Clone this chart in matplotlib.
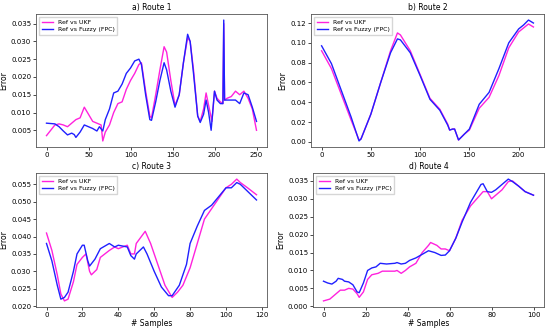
import matplotlib.pyplot as plt

# Route 1
r1_x_ukf = [0, 10, 15, 20, 25, 30, 35, 40, 45, 50, 55, 60, 65, 67, 70, 75, 80, 85, 90, 95, 100, 105, 110, 113,
            118, 123, 125, 130, 135, 140, 143, 148, 153, 158, 163, 168, 171, 175, 180, 183, 187, 190, 193, 197,
            200, 203, 207, 210, 211, 212, 215, 220, 225, 230, 235, 240, 245, 250]
r1_ukf = [0.0035, 0.0065, 0.0068, 0.0065, 0.006, 0.007, 0.008, 0.0085, 0.0115, 0.0095, 0.0075, 0.007, 0.0065,
          0.002, 0.0045, 0.0065, 0.010, 0.0125, 0.013, 0.0165, 0.019, 0.021, 0.0235, 0.024,
          0.016, 0.009, 0.0085, 0.015, 0.022, 0.0285, 0.027, 0.019, 0.012, 0.015, 0.024, 0.031, 0.030, 0.022,
          0.009, 0.0075, 0.011, 0.0155, 0.012, 0.0075, 0.016, 0.014, 0.013, 0.0125, 0.035, 0.0135, 0.014,
          0.0145, 0.016, 0.015, 0.016, 0.014, 0.011, 0.005]
r1_x_fpc = [0, 10, 15, 20, 25, 30, 33, 35, 40, 45, 50, 55, 60, 63, 67, 70, 75, 80, 85, 90, 95, 100, 105, 110,
            113, 118, 123, 125, 130, 135, 140, 143, 148, 153, 158, 163, 168, 171, 175, 180, 183, 187, 190, 193,
            196, 200, 203, 207, 210, 211, 212, 215, 220, 225, 230, 235, 240, 245, 250]
r1_fpc = [0.007, 0.0068, 0.006, 0.0048, 0.0037, 0.0042, 0.0038, 0.003, 0.0045, 0.0065, 0.006, 0.0055, 0.0048,
          0.006, 0.0048, 0.008, 0.011, 0.0155, 0.016, 0.018, 0.021, 0.0225, 0.0245, 0.025,
          0.0235, 0.015, 0.008, 0.0078, 0.013, 0.019, 0.024, 0.022, 0.016, 0.0115, 0.015, 0.024, 0.032, 0.030,
          0.021, 0.009, 0.0072, 0.0095, 0.0135, 0.010, 0.005, 0.016, 0.0135, 0.0125, 0.0125, 0.036, 0.0135,
          0.0135, 0.0135, 0.0135, 0.0125, 0.0155, 0.015, 0.0115, 0.0075]

# Route 2
r2_x = [0, 10, 20, 30, 38, 40, 50, 60, 70, 77, 80, 90, 100, 110, 120, 128, 130, 133, 135, 139, 145, 150,
        160, 170, 180, 190, 200, 205, 210, 215]
r2_ukf = [0.092, 0.074, 0.048, 0.022, 0.002, 0.003, 0.028, 0.060, 0.092, 0.110, 0.108, 0.092, 0.068, 0.044,
          0.033, 0.018, 0.012, 0.013, 0.013, 0.002, 0.008, 0.012, 0.034, 0.045, 0.067, 0.095, 0.111, 0.115,
          0.119, 0.116]
r2_fpc = [0.097, 0.079, 0.052, 0.025, 0.001, 0.003, 0.028, 0.060, 0.090, 0.104, 0.103, 0.090, 0.067, 0.043,
          0.032, 0.017, 0.012, 0.013, 0.013, 0.002, 0.008, 0.013, 0.038, 0.050, 0.074, 0.100, 0.114, 0.118,
          0.123, 0.120]

# Route 3
r3_x_ukf = [0, 3, 6, 8, 10, 12, 15, 17, 20, 22, 24, 25, 28, 30, 35, 38, 40, 45, 47, 49, 50, 55, 58, 62, 66,
            70, 73, 76, 80, 84, 88, 92, 96, 100, 103, 106, 108, 112, 117]
r3_ukf = [0.041, 0.036, 0.029, 0.0235, 0.0215, 0.022, 0.027, 0.032, 0.034, 0.035, 0.030, 0.029, 0.0305,
          0.034, 0.036, 0.037, 0.0365, 0.0375, 0.035, 0.035, 0.038, 0.0415, 0.038, 0.032, 0.026, 0.0225,
          0.024, 0.026, 0.031, 0.038, 0.045, 0.048, 0.051, 0.054, 0.055, 0.0565, 0.0555, 0.054, 0.052]
r3_x_fpc = [0, 3, 6, 8, 10, 12, 15, 17, 20, 21, 23, 24, 27, 30, 35, 38, 40, 45, 47, 49, 50, 54, 56, 60, 64,
            68, 70, 74, 78, 80, 84, 88, 92, 96, 100, 103, 106, 108, 112, 117]
r3_fpc = [0.038, 0.033, 0.026, 0.022, 0.0225, 0.024, 0.030, 0.035, 0.0375, 0.0375, 0.033, 0.0315, 0.0335,
          0.0365, 0.038, 0.037, 0.0375, 0.037, 0.0345, 0.0335, 0.035, 0.037, 0.035, 0.030, 0.0255, 0.023,
          0.023, 0.026, 0.032, 0.038, 0.043, 0.0475, 0.049, 0.0515, 0.054, 0.054, 0.0555, 0.055, 0.053, 0.0505]

# Route 4
r4_x_ukf = [0, 3, 5, 8, 10, 12, 14, 16, 17, 19, 21, 23, 26, 28, 30, 34, 35, 37, 39, 41, 44, 47, 50, 51, 54,
            56, 58, 60, 63, 66, 70, 73, 76, 78, 80, 82, 85, 88, 90, 93, 96, 100]
r4_ukf = [0.0015, 0.002, 0.003, 0.0045, 0.0045, 0.005, 0.0048, 0.0035, 0.0025, 0.004, 0.0075, 0.0088,
          0.0092, 0.0098, 0.0098, 0.0098, 0.010, 0.0092, 0.010, 0.011, 0.012, 0.015, 0.017, 0.0178, 0.017,
          0.016, 0.016, 0.0155, 0.019, 0.024, 0.028, 0.030, 0.032, 0.032, 0.030, 0.031, 0.0325, 0.0348,
          0.035, 0.0335, 0.032, 0.031]
r4_x_fpc = [0, 2, 4, 6, 7, 9, 10, 12, 14, 16, 17, 19, 21, 23, 25, 27, 30, 34, 35, 37, 39, 41, 44, 47, 50,
            53, 56, 58, 60, 63, 66, 70, 73, 75, 76, 78, 80, 82, 85, 88, 90, 93, 96, 100]
r4_fpc = [0.007, 0.0065, 0.0062, 0.007, 0.0078, 0.0075, 0.007, 0.0068, 0.006, 0.004, 0.0038, 0.0065, 0.010,
          0.0107, 0.011, 0.012, 0.0118, 0.012, 0.0122, 0.0118, 0.012, 0.0128, 0.0135, 0.0145, 0.0155, 0.015,
          0.0142, 0.0143, 0.0155, 0.019, 0.0235, 0.029, 0.032, 0.034, 0.0342, 0.032, 0.0318, 0.0325, 0.034,
          0.0355, 0.0348, 0.0335, 0.032, 0.031]

titles = ['a) Route 1', 'b) Route 2', 'c) Route 3', 'd) Route 4']
routes = [(r1_x_ukf, r1_ukf, r1_x_fpc, r1_fpc),
          (r2_x, r2_ukf, r2_x, r2_fpc),
          (r3_x_ukf, r3_ukf, r3_x_fpc, r3_fpc),
          (r4_x_ukf, r4_ukf, r4_x_fpc, r4_fpc)]
yticks = [[0.005, 0.010, 0.015, 0.020, 0.025, 0.030, 0.035],
          [0.00, 0.02, 0.04, 0.06, 0.08, 0.10, 0.12],
          [0.020, 0.025, 0.030, 0.035, 0.040, 0.045, 0.050, 0.055],
          [0.000, 0.005, 0.010, 0.015, 0.020, 0.025, 0.030, 0.035]]
yfmt = ['%.3f', '%.2f', '%.3f', '%.3f']

# axes boxes in pixels: left, top, right, bottom
boxes = [(36, 14, 267, 147), (311, 14, 544, 147), (36, 173, 267, 307), (313, 173, 544, 307)]

fig = plt.figure(figsize=(5.5, 3.32), dpi=100)
W, H = 550, 332
for i in range(4):
    l, t, r, b = boxes[i]
    ax = fig.add_axes([l / W, 1 - b / H, (r - l) / W, (b - t) / H])
    xu, yu, xf, yf = routes[i]
    ax.plot(xu, yu, color='#ff22dd', lw=1.0, label='Ref vs UKF')
    ax.plot(xf, yf, color='#2020ff', lw=1.0, label='Ref vs Fuzzy (FPC)')
    ax.set_title(titles[i], fontsize=5.5, pad=3)
    ax.set_ylabel('Error', fontsize=5.5, labelpad=2)
    if i >= 2:
        ax.set_xlabel('# Samples', fontsize=5.5, labelpad=1)
    ax.set_yticks(yticks[i])
    ax.set_yticklabels([yfmt[i] % v for v in yticks[i]])
    ax.tick_params(labelsize=5, length=2, pad=1.5, width=0.5)
    for s in ax.spines.values():
        s.set_linewidth(0.6)
        s.set_color('#555555')
    ax.legend(loc='upper left', fontsize=4.5, frameon=True, borderpad=0.4,
              handlelength=1.8, labelspacing=0.3, fancybox=False, edgecolor='#cccccc')

fig.savefig('out.png', dpi=100)
